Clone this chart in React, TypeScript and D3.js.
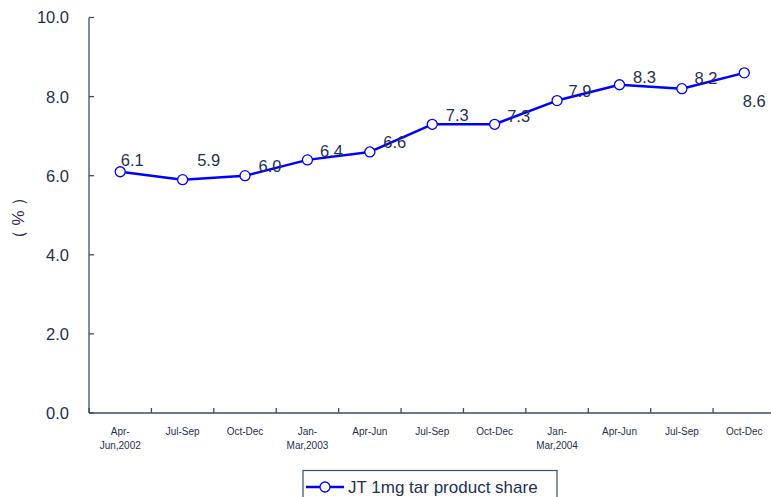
import React from "react";
import * as d3 from "d3";

// Quarterly share of the JT 1mg tar product (%)
const categories: string[][] = [
  ["Apr-", "Jun,2002"],
  ["Jul-Sep"],
  ["Oct-Dec"],
  ["Jan-", "Mar,2003"],
  ["Apr-Jun"],
  ["Jul-Sep"],
  ["Oct-Dec"],
  ["Jan-", "Mar,2004"],
  ["Apr-Jun"],
  ["Jul-Sep"],
  ["Oct-Dec"],
];
const shareValues: number[] = [6.1, 5.9, 6.0, 6.4, 6.6, 7.3, 7.3, 7.9, 8.3, 8.2, 8.6];
const yTicks: number[] = [0, 2, 4, 6, 8, 10];
const seriesName = "JT 1mg tar product share";

// Data label offsets (text centre relative to its point)
const labelOffsets: [number, number][] = [
  [12, -12], [26, -20], [25, -10], [24, -9], [25, -10], [25, -9],
  [24, -8], [23, -9], [25, -8], [24, -11], [10, 28],
];

const W = 771;
const H = 497;
const left = 89;
const right = 775.5;
const top = 17.5;
const bottom = 413;

const TEXT = "#1f3050";
const AXIS = "#3b4d66";
const BLUE = "#0000ff";
const FONT = "'Liberation Sans', Arial, sans-serif";

export default function App() {
  const x = d3
    .scaleBand<number>()
    .domain(d3.range(categories.length))
    .range([left, right]);
  const y = d3.scaleLinear().domain([0, 10]).range([bottom, top]);
  const cx = (i: number) => (x(i) as number) + x.bandwidth() / 2;

  const line = d3
    .line<number>()
    .x((_, i) => cx(i))
    .y((v) => y(v));

  const tickXs = d3.range(categories.length + 1).map((i) => left + i * x.bandwidth());

  return (
    <svg
      width={W}
      height={H}
      style={{ position: "fixed", left: 0, top: 0, background: "#fff" }}
      fontFamily={FONT}
    >
      {/* y axis */}
      <line x1={left} x2={left} y1={top} y2={bottom} stroke={AXIS} strokeWidth={1.3} />
      {yTicks.map((t) => (
        <g key={t}>
          <line x1={left} x2={left + 5} y1={y(t)} y2={y(t)} stroke={AXIS} strokeWidth={1.3} />
          <text
            x={left - 20}
            y={y(t)}
            dy="0.36em"
            textAnchor="end"
            fontSize={16.5}
            fill={TEXT}
          >
            {t.toFixed(1)}
          </text>
        </g>
      ))}
      <text
        transform={`translate(18,216) rotate(-90)`}
        textAnchor="middle"
        dy="0.36em"
        fontSize={17}
        letterSpacing={4}
        fill={TEXT}
      >
        （%）
      </text>

      {/* x axis */}
      <line x1={left} x2={right} y1={bottom} y2={bottom} stroke={AXIS} strokeWidth={1.3} />
      {tickXs.map((tx, i) => (
        <line key={i} x1={tx} x2={tx} y1={bottom} y2={bottom - 5} stroke={AXIS} strokeWidth={1.3} />
      ))}
      {categories.map((lines, i) => (
        <text key={i} x={cx(i)} textAnchor="middle" fontSize={10} fill={TEXT}>
          {lines.map((s, j) => (
            <tspan key={j} x={cx(i)} y={434.5 + j * 14.5}>
              {s}
            </tspan>
          ))}
        </text>
      ))}

      {/* series */}
      <path d={line(shareValues) || ""} fill="none" stroke={BLUE} strokeWidth={2.5} strokeLinejoin="round" />
      {shareValues.map((v, i) => (
        <circle key={i} cx={cx(i)} cy={y(v)} r={5} fill="#fff" stroke={BLUE} strokeWidth={1.3} />
      ))}
      {shareValues.map((v, i) => (
        <text
          key={i}
          x={cx(i) + labelOffsets[i][0]}
          y={y(v) + labelOffsets[i][1]}
          dy="0.36em"
          textAnchor="middle"
          fontSize={16.5}
          fill={TEXT}
        >
          {v.toFixed(1)}
        </text>
      ))}

      {/* legend */}
      <rect x={303} y={470.5} width={254} height={40} fill="#fff" stroke={AXIS} strokeWidth={1.2} />
      <line x1={306} x2={344} y1={487} y2={487} stroke={BLUE} strokeWidth={2.5} />
      <circle cx={325} cy={487} r={5} fill="#fff" stroke={BLUE} strokeWidth={1.3} />
      <text x={348} y={487} dy="0.36em" fontSize={17} fill={TEXT}>
        {seriesName}
      </text>
    </svg>
  );
}
